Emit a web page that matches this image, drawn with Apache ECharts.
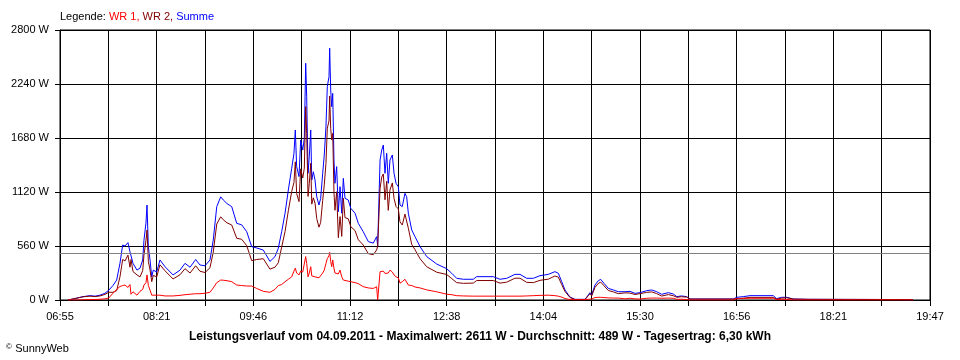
<!DOCTYPE html>
<html>
<head>
<meta charset="utf-8">
<script src="https://cdn.jsdelivr.net/npm/echarts@6/dist/echarts.min.js"></script>
<style>
html,body{margin:0;padding:0;background:#fff;}
#chart{width:960px;height:360px;}
</style>
</head>
<body>
<div id="chart"></div>
<script>
// Time of each sample, minutes after 06:55
var minutes = [7.1,13.3,20.4,26.6,31.1,35.5,39.9,43.2,47.0,50.3,53.2,55.6,57.7,60.3,62.1,63.0,64.8,68.3,71.0,73.4,74.5,76.3,77.2,78.4,79.9,81.4,82.8,85.8,88.7,93.2,100.3,106.5,110.9,115.4,120.4,124.2,128.7,133.1,136.0,139.1,142.6,144.9,148.2,152.4,156.8,161.2,165.7,170.1,174.5,180.4,186.3,190.8,193.7,196.7,199.7,202.6,205.6,207.6,208.8,210.0,212.1,213.6,215.4,216.8,218.0,218.9,220.1,221.2,222.5,223.4,224.8,226.3,227.8,229.8,231.3,233.1,234.5,236.0,237.2,238.7,239.3,240.2,241.1,242.0,243.1,244.0,245.5,247.0,248.5,250.0,251.4,252.9,255.8,258.0,261.8,264.7,269.1,273.6,278.0,281.0,281.9,284.0,285.5,286.9,288.4,289.9,291.3,292.8,294.9,296.4,298.2,300.2,301.7,303.7,306.1,307.6,309.1,312.1,315.0,319.5,325.4,334.3,343.1,347.6,352.0,357.9,366.7,369.7,384.5,390.4,396.4,403.7,408.2,414.1,420.0,425.9,433.3,439.2,442.2,445.2,448.1,452.6,457.0,465.9,468.8,470.3,471.8,474.7,477.7,479.8,482.7,486.5,491.0,495.4,501.4,505.8,510.2,514.7,520.6,525.1,529.5,533.9,539.8,544.3,547.3,551.4,556.1,559.0,597.5,600.5,606.3,612.3,632.9,635.9,640.4,644.9,650.7,664.0,742.5,756.9];

var wr1 = [0,0,2,5,5,8,12,20,70,110,140,150,155,130,160,60,85,50,90,110,155,180,260,150,103,50,55,50,50,42,42,48,55,60,65,65,70,80,125,180,207,205,200,190,155,150,145,145,120,90,80,110,150,160,190,215,240,300,330,280,260,300,290,310,450,380,240,280,345,250,270,240,225,230,250,280,310,380,430,460,495,400,345,415,330,280,260,270,310,240,207,200,195,190,180,170,138,125,120,138,0,293,280,300,275,290,280,310,290,260,240,230,175,190,215,200,155,150,135,125,105,85,60,55,45,42,40,40,40,40,40,40,40,42,45,48,50,45,40,30,15,5,2,2,7,10,10,25,28,28,25,22,20,20,12,18,12,10,18,20,20,18,20,18,7,8,5,0,0,14,16,18,18,5,8,5,0,0,0,0];

var wr2 = [0,15,33,40,35,42,58,80,80,97,240,420,405,465,340,420,295,260,240,305,465,620,725,400,312,190,255,240,365,303,218,262,325,280,355,298,285,335,497,788,863,832,800,778,640,630,563,408,420,428,320,340,386,548,710,925,1125,1220,1433,1103,1020,1360,1265,1367,2005,1728,1074,1206,1418,994,1060,1004,846,755,804,1034,1194,1417,1782,1856,2116,1778,1660,1728,1122,930,1123,646,865,660,1055,854,842,761,720,625,570,480,470,519,560,1159,1275,1307,1039,1231,930,1142,1214,1054,970,945,810,778,891,871,745,576,522,428,345,288,265,222,180,173,175,202,202,175,185,226,226,183,180,204,216,249,237,160,89,25,5,5,45,66,42,130,172,186,148,99,84,66,74,72,57,66,79,84,66,41,56,44,28,34,30,10,10,14,19,27,27,9,20,23,10,7,5,3];

var summe = [0,15,35,45,40,50,70,100,150,207,380,570,560,595,500,480,380,310,330,415,620,800,985,550,415,240,310,290,415,345,260,310,380,340,420,363,355,415,622,968,1070,1037,1000,968,795,780,708,553,540,518,400,450,536,708,900,1140,1365,1520,1763,1383,1280,1660,1555,1677,2455,2108,1314,1486,1763,1244,1330,1244,1071,985,1054,1314,1504,1797,2212,2316,2611,2178,2005,2143,1452,1210,1383,916,1175,900,1262,1054,1037,951,900,795,708,605,590,657,560,1452,1555,1607,1314,1521,1210,1452,1504,1314,1210,1175,985,968,1106,1071,900,726,657,553,450,373,325,277,225,215,215,242,242,215,225,266,266,225,225,252,266,294,277,190,104,30,7,7,52,76,52,155,200,214,173,121,104,86,86,90,69,76,97,104,86,59,76,62,35,42,35,10,10,28,35,45,45,14,28,28,10,7,5,3];

var average = 489;
var timeLabels = ["06:55","08:21","09:46","11:12","12:38","14:04","15:30","16:56","18:21","19:47"];
var yMax = 2800, yStep = 560;
var spanMinutes = 772, gridCount = 18;

function pairs(vals){ return vals.map(function(v,i){ return [minutes[i], v]; }); }

var FONT = 'Liberation Sans';
var chart = echarts.init(document.getElementById('chart'), null, {renderer:'canvas'});
var step = spanMinutes / gridCount;
chart.setOption({
  animation: false,
  backgroundColor: '#ffffff',
  grid: {left:60, right:30, top:30, bottom:60, show:true, borderColor:'#000', borderWidth:1, backgroundColor:'transparent'},
  graphic: [
    {type:'text', x:60, y:17, style:{text:'{k|Legende: }{a|WR 1, }{b|WR 2, }{c|Summe}', verticalAlign:'middle', rich:{
        k:{fill:'#000', fontSize:11, fontFamily:FONT, fontWeight:'normal'},
        a:{fill:'#ff0000', fontSize:11, fontFamily:FONT, fontWeight:'normal'},
        b:{fill:'#800000', fontSize:11, fontFamily:FONT, fontWeight:'normal'},
        c:{fill:'#0000ff', fontSize:11, fontFamily:FONT, fontWeight:'normal'}
    }}},
    {type:'text', x:480, y:337, style:{text:'Leistungsverlauf vom 04.09.2011 - Maximalwert: 2611 W - Durchschnitt: 489 W - Tagesertrag: 6,30 kWh', font:'bold 12px "Liberation Sans"', fill:'#000', align:'center', verticalAlign:'middle'}},
    {type:'text', x:6, y:349, style:{text:'{s|©} {t|SunnyWeb}', rich:{s:{fontSize:8, fontFamily:FONT, fill:'#000', verticalAlign:'top'}, t:{fontSize:11, fontFamily:FONT, fill:'#000'}}, verticalAlign:'middle'}}
  ],
  xAxis: {
    type:'value', min:0, max:spanMinutes, interval:step,
    axisLine:{show:true, lineStyle:{color:'#000', width:1}},
    axisTick:{show:true, length:6, lineStyle:{color:'#000'}},
    splitLine:{show:true, lineStyle:{color:'#000', width:1}},
    axisLabel:{
      color:'#000', fontSize:11, fontFamily:FONT, margin:11, hideOverlap:false,
      showMinLabel:true, showMaxLabel:true,
      formatter:function(v){
        var idx = Math.round(v/step);
        if (idx % 2 !== 0) return '';
        return timeLabels[idx/2] || '';
      }
    }
  },
  yAxis: {
    type:'value', min:0, max:yMax, interval:yStep,
    axisLine:{show:true, lineStyle:{color:'#000', width:1}},
    axisTick:{show:true, length:5, lineStyle:{color:'#000'}},
    splitLine:{show:true, lineStyle:{color:'#000', width:1}},
    axisLabel:{color:'#000', fontSize:11, fontFamily:FONT, margin:11, formatter:function(v){ return v + ' W'; }}
  },
  series: [
    {name:'Summe', type:'line', data:pairs(summe), symbol:'none', lineStyle:{color:'#0000ff', width:1}, itemStyle:{color:'#0000ff'},
     markLine:{silent:true, symbol:'none', label:{show:false}, lineStyle:{color:'#808080', width:1, type:'solid'}, data:[{yAxis:average}]}},
    {name:'WR 2', type:'line', data:pairs(wr2), symbol:'none', lineStyle:{color:'#800000', width:1}, itemStyle:{color:'#800000'}},
    {name:'WR 1', type:'line', data:pairs(wr1), symbol:'none', lineStyle:{color:'#ff0000', width:1}, itemStyle:{color:'#ff0000'}}
  ]
});
</script>
</body>
</html>
